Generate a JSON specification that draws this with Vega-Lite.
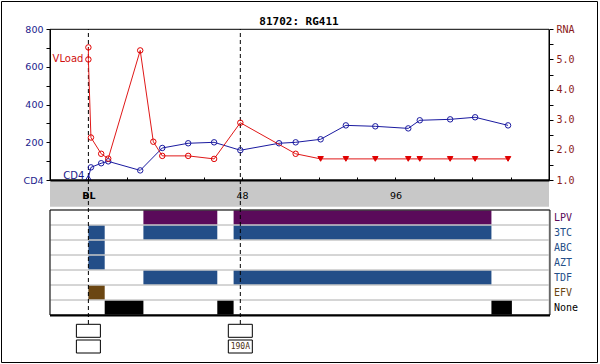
{
  "$schema": "https://vega.github.io/schema/vega-lite/v6.json",
  "width": 596,
  "height": 361,
  "autosize": "none",
  "padding": {"left": 1, "top": 1, "right": 3, "bottom": 2},
  "background": "white",
  "title": {"text": "81702: RG411", "font": "DejaVu Sans Mono", "fontSize": 11, "fontWeight": "bold", "color": "black", "offset": -35, "anchor": "middle", "frame": "group", "baseline": "alphabetic"},
  "datasets": {
    "cd4": [
      {"week": 0, "cd4": 12, "bdl": "Y"},
      {"week": 0.8, "cd4": 67, "bdl": "N"},
      {"week": 4, "cd4": 89, "bdl": "N"},
      {"week": 6.2, "cd4": 99, "bdl": "N"},
      {"week": 16.2, "cd4": 51, "bdl": "N"},
      {"week": 23.1, "cd4": 170, "bdl": "N"},
      {"week": 31.2, "cd4": 195, "bdl": "N"},
      {"week": 39.3, "cd4": 200, "bdl": "N"},
      {"week": 47.5, "cd4": 158, "bdl": "N"},
      {"week": 59.6, "cd4": 195, "bdl": "N"},
      {"week": 64.8, "cd4": 200, "bdl": "N"},
      {"week": 72.6, "cd4": 216, "bdl": "N"},
      {"week": 80.5, "cd4": 290, "bdl": "N"},
      {"week": 89.7, "cd4": 285, "bdl": "N"},
      {"week": 100, "cd4": 274, "bdl": "N"},
      {"week": 103.6, "cd4": 317, "bdl": "N"},
      {"week": 113.1, "cd4": 322, "bdl": "N"},
      {"week": 120.9, "cd4": 333, "bdl": "N"},
      {"week": 131.2, "cd4": 290, "bdl": "N"}
    ],
    "rna": [
      {"seq": 1, "week": 0, "rna": 5.4, "bdl": "N"},
      {"seq": 2, "week": 0, "rna": 5.0, "bdl": "N"},
      {"seq": 3, "week": 0.8, "rna": 2.41, "bdl": "N"},
      {"seq": 4, "week": 4, "rna": 1.87, "bdl": "N"},
      {"seq": 5, "week": 6.2, "rna": 1.71, "bdl": "N"},
      {"seq": 6, "week": 16.2, "rna": 5.3, "bdl": "N"},
      {"seq": 7, "week": 20.3, "rna": 2.27, "bdl": "N"},
      {"seq": 8, "week": 23.1, "rna": 1.8, "bdl": "N"},
      {"seq": 9, "week": 31.2, "rna": 1.8, "bdl": "N"},
      {"seq": 10, "week": 39.3, "rna": 1.7, "bdl": "N"},
      {"seq": 11, "week": 47.5, "rna": 2.9, "bdl": "N"},
      {"seq": 12, "week": 64.8, "rna": 1.87, "bdl": "N"},
      {"seq": 13, "week": 72.6, "rna": 1.7, "bdl": "Y"},
      {"seq": 14, "week": 80.5, "rna": 1.7, "bdl": "Y"},
      {"seq": 15, "week": 89.7, "rna": 1.7, "bdl": "Y"},
      {"seq": 16, "week": 100, "rna": 1.7, "bdl": "Y"},
      {"seq": 17, "week": 103.6, "rna": 1.7, "bdl": "Y"},
      {"seq": 18, "week": 113.1, "rna": 1.7, "bdl": "Y"},
      {"seq": 19, "week": 120.9, "rna": 1.7, "bdl": "Y"},
      {"seq": 20, "week": 131.2, "rna": 1.7, "bdl": "Y"}
    ],
    "drugs": [
      {"drug": "LPV"}, {"drug": "3TC"}, {"drug": "ABC"}, {"drug": "AZT"},
      {"drug": "TDF"}, {"drug": "EFV"}, {"drug": "None"}
    ],
    "regimen": [
      {"drug": "LPV", "start": 17.2, "end": 40.3},
      {"drug": "LPV", "start": 45.4, "end": 126},
      {"drug": "3TC", "start": 0, "end": 5.1},
      {"drug": "3TC", "start": 17.2, "end": 40.3},
      {"drug": "3TC", "start": 45.4, "end": 126},
      {"drug": "ABC", "start": 0, "end": 5.1},
      {"drug": "AZT", "start": 0, "end": 5.1},
      {"drug": "TDF", "start": 17.2, "end": 40.3},
      {"drug": "TDF", "start": 45.4, "end": 126},
      {"drug": "EFV", "start": 0, "end": 5.1},
      {"drug": "None", "start": 5.1, "end": 17.2},
      {"drug": "None", "start": 40.3, "end": 45.4},
      {"drug": "None", "start": 126, "end": 132.4}
    ],
    "landmarks": [{"week": 0}, {"week": 47.5}],
    "boxes": [
      {"week": 0, "slot": "a"}, {"week": 0, "slot": "b"},
      {"week": 47.5, "slot": "a"}, {"week": 47.5, "slot": "b"}
    ],
    "mutations": [{"week": 47.5, "slot": "b", "text": "190A"}],
    "one": [{"id": 1}]
  },
  "layer": [
    {
      "data": {"name": "one"},
      "mark": {"type": "rect", "fill": "#c8c8c8"},
      "encoding": {
        "x": {"datum": -12, "type": "quantitative", "scale": {"domain": [-12, 144], "range": [49, 548], "nice": false, "zero": false}},
        "x2": {"datum": 144},
        "y": {"datum": 0, "type": "quantitative", "scale": {"domain": [0, 1], "range": [205.7, 179]}, "axis": null},
        "y2": {"datum": 1}
      }
    },
    {
      "data": {"name": "regimen"},
      "mark": {"type": "rect"},
      "encoding": {
        "x": {"field": "start", "type": "quantitative", "scale": {"domain": [-12, 144], "range": [49, 548], "nice": false, "zero": false}},
        "x2": {"field": "end"},
        "y": {"field": "drug", "type": "nominal", "scale": {"type": "band", "domain": ["LPV", "3TC", "ABC", "AZT", "TDF", "EFV", "None"], "range": [209, 314], "paddingInner": 0, "paddingOuter": 0}, "axis": null},
        "color": {"field": "drug", "type": "nominal", "scale": {"domain": ["LPV", "3TC", "ABC", "AZT", "TDF", "EFV", "None"], "range": ["#5a0a5a", "#234e88", "#234e88", "#234e88", "#234e88", "#6b4612", "#000000"]}, "legend": null}
      }
    },
    {
      "data": {"name": "drugs"},
      "mark": {"type": "rect", "fill": "transparent", "stroke": "#c8c8c8", "strokeWidth": 1},
      "encoding": {
        "x": {"datum": -12, "type": "quantitative", "scale": {"domain": [-12, 144], "range": [49, 548], "nice": false, "zero": false}},
        "x2": {"datum": 144},
        "y": {"field": "drug", "type": "nominal", "scale": {"type": "band", "domain": ["LPV", "3TC", "ABC", "AZT", "TDF", "EFV", "None"], "range": [209, 314], "paddingInner": 0, "paddingOuter": 0}, "axis": null}
      }
    },
    {
      "data": {"name": "one"},
      "mark": {"type": "rect", "fill": "transparent", "stroke": "black", "strokeWidth": 1},
      "encoding": {
        "x": {"datum": -12, "type": "quantitative", "scale": {"domain": [-12, 144], "range": [49, 548], "nice": false, "zero": false}},
        "x2": {"datum": 144.3},
        "y": {"datum": 0, "type": "quantitative", "scale": {"domain": [0, 1], "range": [314, 209]}, "axis": null},
        "y2": {"datum": 1}
      }
    },
    {
      "data": {"name": "one"},
      "mark": {"type": "rule", "stroke": "black", "strokeWidth": 2},
      "encoding": {
        "x": {"datum": -12, "type": "quantitative", "scale": {"domain": [-12, 144], "range": [49, 548], "nice": false, "zero": false}},
        "x2": {"datum": 144.3},
        "y": {"datum": 0, "type": "quantitative", "scale": {"domain": [0, 1], "range": [314.5, 209]}, "axis": null}
      }
    },
    {
      "data": {"name": "one"},
      "mark": {"type": "rect", "fill": "transparent", "stroke": "black", "strokeWidth": 1},
      "encoding": {
        "x": {"datum": -12, "type": "quantitative", "scale": {"domain": [-12, 144], "range": [49, 548], "nice": false, "zero": false}},
        "x2": {"datum": 144},
        "y": {"datum": 0, "type": "quantitative", "scale": {"domain": [0, 800], "range": [179, 28.3], "nice": false}, "axis": null},
        "y2": {"datum": 800}
      }
    },
    {
      "data": {"name": "landmarks"},
      "mark": {"type": "rule", "stroke": "black", "strokeWidth": 1, "strokeDash": [4, 3]},
      "encoding": {
        "x": {"field": "week", "type": "quantitative", "scale": {"domain": [-12, 144], "range": [49, 548], "nice": false, "zero": false}},
        "y": {"datum": 0, "type": "quantitative", "scale": {"domain": [0, 1], "range": [323, 28]}, "axis": null},
        "y2": {"datum": 1}
      }
    },
    {
      "data": {"name": "cd4"},
      "mark": {"type": "line", "stroke": "#1a1aa0", "strokeWidth": 1},
      "encoding": {
        "x": {"field": "week", "type": "quantitative", "scale": {"domain": [-12, 144], "range": [49, 548], "nice": false, "zero": false},
          "axis": {"orient": "bottom", "offset": -182, "values": [-12, 0, 12, 24, 36, 48, 60, 72, 84, 96, 108, 120, 132, 144],
            "labelExpr": "datum.value == 0 ? 'BL' : (datum.value == 48 || datum.value == 96 ? datum.label : '')",
            "labelFontWeight": {"condition": {"test": "datum.value == 0", "value": "bold"}, "value": "normal"},
            "title": null, "grid": false, "domainColor": "black", "domainWidth": 2, "tickColor": "black", "tickSize": -3,
            "labelPadding": 13, "labelFont": "DejaVu Sans", "labelFontSize": 9.5, "labelColor": "black", "zindex": 2,
            "labelFlush": false, "labelOverlap": false}},
        "y": {"field": "cd4", "type": "quantitative", "scale": {"domain": [0, 800], "range": [179, 28.3], "nice": false},
          "axis": {"orient": "left", "offset": -49, "values": [0, 100, 200, 300, 400, 500, 600, 700, 800],
            "labelExpr": "datum.value == 0 ? 'CD4' : (datum.value % 200 == 0 ? datum.label : '')",
            "title": null, "grid": false, "domainColor": "black", "tickColor": "black", "tickSize": 4, "labelPadding": 3,
            "labelFont": "DejaVu Sans", "labelFontSize": 9.5, "labelColor": "#1a1a8c", "zindex": 2, "labelFlush": false, "labelOverlap": false}}
      }
    },
    {
      "data": {"name": "cd4"},
      "mark": {"type": "point", "filled": false, "stroke": "#1a1aa0", "strokeWidth": 1, "size": 30, "opacity": 1},
      "encoding": {
        "x": {"field": "week", "type": "quantitative", "scale": {"domain": [-12, 144], "range": [49, 548], "nice": false, "zero": false}},
        "y": {"field": "cd4", "type": "quantitative", "scale": {"domain": [0, 800], "range": [179, 28.3], "nice": false}, "axis": null},
        "shape": {"field": "bdl", "type": "nominal", "scale": {"domain": ["N", "Y"], "range": ["circle", "triangle-up"]}, "legend": null}
      }
    },
    {
      "data": {"name": "rna"},
      "mark": {"type": "line", "stroke": "#e01818", "strokeWidth": 1},
      "encoding": {
        "x": {"field": "week", "type": "quantitative", "scale": {"domain": [-12, 144], "range": [49, 548], "nice": false, "zero": false}},
        "order": {"field": "seq", "type": "quantitative"},
        "y": {"field": "rna", "type": "quantitative", "scale": {"domain": [1, 6], "range": [179, 28.3], "nice": false, "zero": false},
          "axis": {"orient": "right", "offset": -48, "values": [1, 1.5, 2, 2.5, 3, 3.5, 4, 4.5, 5, 5.5, 6], "format": ".1f",
            "labelExpr": "datum.value == 6 ? 'RNA' : (datum.value % 1 == 0 ? datum.label : '')",
            "title": null, "grid": false, "domainColor": "black", "tickColor": "black", "tickSize": 4, "labelPadding": 3,
            "labelFont": "DejaVu Sans Mono", "labelFontSize": 10, "labelColor": "#8b1a1a", "zindex": 2, "labelFlush": false, "labelOverlap": false}}
      }
    },
    {
      "data": {"name": "rna"},
      "mark": {"type": "point", "filled": true, "stroke": "#e00000", "strokeWidth": 1, "size": 30, "opacity": 1},
      "encoding": {
        "x": {"field": "week", "type": "quantitative", "scale": {"domain": [-12, 144], "range": [49, 548], "nice": false, "zero": false}},
        "y": {"field": "rna", "type": "quantitative", "scale": {"domain": [1, 6], "range": [179, 28.3], "nice": false, "zero": false}, "axis": null},
        "shape": {"field": "bdl", "type": "nominal", "scale": {"domain": ["N", "Y"], "range": ["circle", "triangle-down"]}, "legend": null},
        "fill": {"condition": {"test": "datum.bdl == 'Y'", "value": "#e00000"}, "value": "transparent"}
      }
    },
    {
      "data": {"values": [{"week": 0, "cd4": 12, "label": "CD4"}]},
      "mark": {"type": "text", "align": "right", "baseline": "middle", "dx": -4, "dy": -2, "font": "DejaVu Sans", "fontSize": 10, "color": "#1a1a8c"},
      "encoding": {
        "x": {"field": "week", "type": "quantitative", "scale": {"domain": [-12, 144], "range": [49, 548], "nice": false, "zero": false}},
        "y": {"field": "cd4", "type": "quantitative", "scale": {"domain": [0, 800], "range": [179, 28.3], "nice": false}, "axis": null},
        "text": {"field": "label"}
      }
    },
    {
      "data": {"values": [{"week": 0, "rna": 5.0, "label": "VLoad"}]},
      "mark": {"type": "text", "align": "right", "baseline": "middle", "dx": -5, "font": "DejaVu Sans", "fontSize": 10, "color": "#d01010"},
      "encoding": {
        "x": {"field": "week", "type": "quantitative", "scale": {"domain": [-12, 144], "range": [49, 548], "nice": false, "zero": false}},
        "y": {"field": "rna", "type": "quantitative", "scale": {"domain": [1, 6], "range": [179, 28.3], "nice": false, "zero": false}, "axis": null},
        "text": {"field": "label"}
      }
    },
    {
      "data": {"name": "boxes"},
      "mark": {"type": "point", "shape": "M-1,-0.5417L1,-0.5417L1,0.5417L-1,0.5417Z", "size": 576, "filled": true, "fill": "white", "stroke": "black", "strokeWidth": 1, "opacity": 1},
      "encoding": {
        "x": {"field": "week", "type": "quantitative", "scale": {"domain": [-12, 144], "range": [49, 548], "nice": false, "zero": false}},
        "y": {"field": "slot", "type": "nominal", "scale": {"type": "point", "domain": ["a", "b"], "range": [329.8, 345.5], "padding": 0}, "axis": null}
      }
    },
    {
      "data": {"name": "mutations"},
      "mark": {"type": "text", "align": "center", "baseline": "middle", "font": "DejaVu Sans Mono", "fontSize": 8, "color": "#4a3010"},
      "encoding": {
        "x": {"field": "week", "type": "quantitative", "scale": {"domain": [-12, 144], "range": [49, 548], "nice": false, "zero": false}},
        "y": {"field": "slot", "type": "nominal", "scale": {"type": "point", "domain": ["a", "b"], "range": [329.8, 345.5], "padding": 0}, "axis": null},
        "text": {"field": "text"}
      }
    },
    {
      "data": {"name": "drugs"},
      "mark": {"type": "text", "align": "left", "baseline": "middle", "dx": 5, "font": "DejaVu Sans Mono", "fontSize": 10},
      "encoding": {
        "x": {"datum": 144, "type": "quantitative", "scale": {"domain": [-12, 144], "range": [49, 548], "nice": false, "zero": false}},
        "y": {"field": "drug", "type": "nominal", "scale": {"type": "band", "domain": ["LPV", "3TC", "ABC", "AZT", "TDF", "EFV", "None"], "range": [209, 314], "paddingInner": 0, "paddingOuter": 0}, "axis": null},
        "text": {"field": "drug"},
        "color": {"field": "drug", "type": "nominal", "scale": {"domain": ["LPV", "3TC", "ABC", "AZT", "TDF", "EFV", "None"], "range": ["#5a0a5a", "#234e88", "#234e88", "#234e88", "#234e88", "#6b4612", "#000000"]}, "legend": null}
      }
    }
  ],
  "resolve": {"scale": {"y": "independent", "shape": "independent"}, "axis": {"y": "independent"}},
  "config": {"view": {"stroke": "black", "strokeWidth": 1}}
}
